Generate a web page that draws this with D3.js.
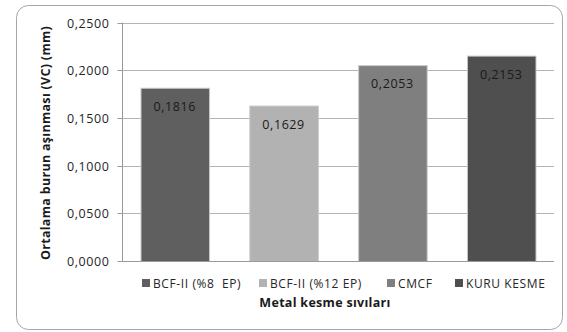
<!DOCTYPE html>
<html>
<head>
<meta charset="utf-8">
<script src="https://cdn.jsdelivr.net/npm/d3@7"></script>
<style>
  html, body { margin: 0; padding: 0; background: #fff; }
  svg { display: block; }
  text { font-family: "Open Sans", "Noto Sans", sans-serif; }
</style>
</head>
<body>
<svg id="chart" width="567" height="332"></svg>
<script>
// Average nose wear per metal cutting fluid
const categories = ["BCF-II (%8  EP)", "BCF-II (%12 EP)", "CMCF", "KURU KESME"];
const values = [0.1816, 0.1629, 0.2053, 0.2153];
const valueLabels = ["0,1816", "0,1629", "0,2053", "0,2153"];
const colors = ["#5f5f5f", "#b2b2b2", "#7f7f7f", "#4f4f4f"];
const yTicks = [0, 0.05, 0.10, 0.15, 0.20, 0.25];
const yTickLabels = ["0,0000", "0,0500", "0,1000", "0,1500", "0,2000", "0,2500"];
const yTitle = "Ortalama burun aşınması (VC) (mm)";
const xTitle = "Metal kesme sıvıları";

const svg = d3.select("#chart");

// outer frame
svg.append("rect")
  .attr("x", 16.5).attr("y", 5.5)
  .attr("width", 546).attr("height", 324)
  .attr("rx", 12).attr("ry", 12)
  .attr("fill", "#fff")
  .attr("stroke", "#a6a6a6")
  .attr("stroke-width", 1);

const plot = { left: 122, right: 554, top: 22.5, bottom: 261 };

const x = d3.scaleBand()
  .domain(categories)
  .range([plot.left, plot.right])
  .paddingInner(0.37)
  .paddingOuter(0.17);

const y = d3.scaleLinear()
  .domain([0, 0.25])
  .range([plot.bottom, plot.top]);

// gridlines
svg.append("g")
  .selectAll("line")
  .data(yTicks.slice(1))
  .join("line")
  .attr("x1", plot.left).attr("x2", plot.right)
  .attr("y1", d => Math.round(y(d)) + 0.5)
  .attr("y2", d => Math.round(y(d)) + 0.5)
  .attr("stroke", "#b3b3b3")
  .attr("stroke-width", 1);

// y axis
const yAxis = d3.axisLeft(y)
  .tickValues(yTicks)
  .tickFormat((d, i) => yTickLabels[i])
  .tickSize(5)
  .tickPadding(8);

const gy = svg.append("g")
  .attr("transform", `translate(${plot.left + 0.5},0)`)
  .call(yAxis);
gy.select(".domain").attr("stroke", "#9a9a9a").attr("d", `M0,${plot.top}V${plot.bottom}`);
gy.selectAll(".tick line").attr("stroke", "#9a9a9a");
gy.selectAll(".tick text")
  .attr("fill", "#262626")
  .attr("font-size", 12.5)
  .attr("letter-spacing", 0.6)
  .style("font-family", "'Open Sans', sans-serif");
gy.selectAll(".tick").attr("transform", d => `translate(0,${Math.round(y(d)) + 0.5})`);

// bars
svg.append("g")
  .selectAll("rect")
  .data(values)
  .join("rect")
  .attr("x", (d, i) => x(categories[i]) + 0.5)
  .attr("y", d => y(d) + 0.5)
  .attr("width", x.bandwidth())
  .attr("height", d => plot.bottom - y(d))
  .attr("fill", (d, i) => colors[i])
  .attr("stroke", "#c8c8c8")
  .attr("stroke-width", 1);

// x axis baseline
svg.append("line")
  .attr("x1", plot.left).attr("x2", plot.right)
  .attr("y1", plot.bottom + 0.5).attr("y2", plot.bottom + 0.5)
  .attr("stroke", "#9a9a9a");

// value labels inside bar tops
svg.append("g")
  .selectAll("text")
  .data(values)
  .join("text")
  .attr("x", (d, i) => x(categories[i]) + x.bandwidth() / 2)
  .attr("y", d => y(d) + 23)
  .attr("text-anchor", "middle")
  .attr("font-size", 12.5)
  .attr("letter-spacing", 0.6)
  .attr("fill", "#1a1a1a")
  .text((d, i) => valueLabels[i]);

// legend
const legendX = [142, 259, 387, 455];
const legend = svg.append("g");
categories.forEach((c, i) => {
  legend.append("rect")
    .attr("x", legendX[i]).attr("y", 279)
    .attr("width", 8).attr("height", 8)
    .attr("fill", colors[i]);
  legend.append("text")
    .attr("x", legendX[i] + 11).attr("y", 288)
    .attr("font-size", 12)
    .attr("letter-spacing", 0.6)
    .attr("fill", "#262626")
    .attr("xml:space", "preserve")
    .style("white-space", "pre")
    .text(c);
});

// axis titles
svg.append("text")
  .attr("x", 325).attr("y", 307)
  .attr("text-anchor", "middle")
  .attr("font-size", 12.5)
  .attr("font-weight", "bold")
  .attr("letter-spacing", 0.3)
  .attr("fill", "#1a1a1a")
  .text(xTitle);

svg.append("text")
  .attr("transform", "translate(49.5,143) rotate(-90)")
  .attr("text-anchor", "middle")
  .attr("font-size", 12.5)
  .attr("font-weight", "bold")
  .attr("letter-spacing", 0.3)
  .attr("fill", "#1a1a1a")
  .text(yTitle);
</script>
</body>
</html>
